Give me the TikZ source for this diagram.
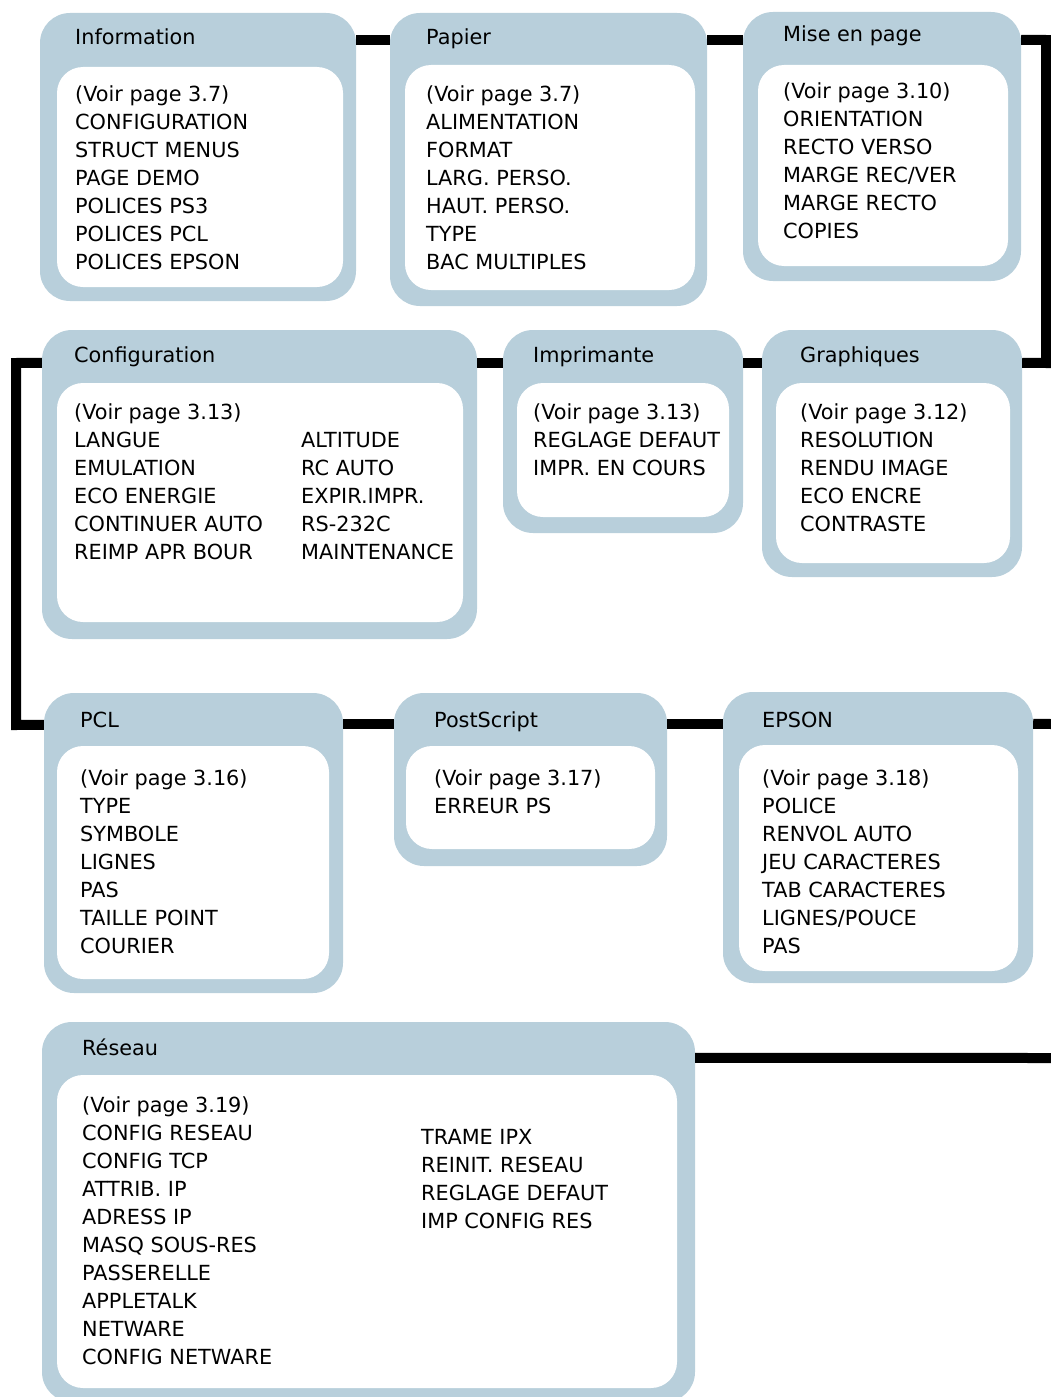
\documentclass[tikz,border=0pt]{standalone}
\usepackage{fontspec}
\setmainfont{DejaVu Sans}
\usepackage{tikz}
\definecolor{panelblue}{RGB}{184,207,219}
\newcommand\menufont{\fontsize{20.8}{28}\selectfont}
\newcommand\menulist[1]{\begin{tabular}[t]{@{}l@{}}#1\end{tabular}}

\begin{document}
\begin{tikzpicture}[x=1pt,y=-1pt,
  panel/.style={rectangle,rounded corners=30pt,fill=panelblue,draw=none,inner sep=0pt},
  card/.style={rectangle,rounded corners=26pt,fill=white,draw=none,inner sep=0pt},
  head/.style={anchor=base west,inner sep=0pt,font=\menufont,text=black},
  items/.style={anchor=base west,inner sep=0pt,font=\menufont,text=black},
  link/.style={draw=black,line width=10pt}]
\useasboundingbox (0,0) rectangle (1051,1397);
% first row
\node[panel,minimum width=316pt,minimum height=288pt] (info) at (198,157) {};
\node[card,minimum width=286pt,minimum height=220pt] (info-c) at (200,177) {};
\node[head] (info-t) at (75,44.5) {Information};
\node[items] (info-b) at (75,101) {\menulist{(Voir page 3.7)\\CONFIGURATION\\STRUCT MENUS\\PAGE DEMO\\POLICES PS3\\POLICES PCL\\POLICES EPSON}};
\node[panel,minimum width=317pt,minimum height=293pt] (papier) at (548.5,159.5) {};
\node[card,minimum width=290pt,minimum height=225pt] (papier-c) at (550,177.5) {};
\node[head] (papier-t) at (426,44.5) {Papier};
\node[items] (papier-b) at (426,101) {\menulist{(Voir page 3.7)\\ALIMENTATION\\FORMAT\\LARG. PERSO.\\HAUT. PERSO.\\TYPE\\BAC MULTIPLES}};
\node[panel,minimum width=278pt,minimum height=269pt] (mise) at (882,146.5) {};
\node[card,minimum width=250pt,minimum height=201pt] (mise-c) at (883,165.5) {};
\node[head] (mise-t) at (783,41.5) {Mise en page};
\node[items] (mise-b) at (783,98.5) {\menulist{(Voir page 3.10)\\ORIENTATION\\RECTO VERSO\\MARGE REC/VER\\MARGE RECTO\\COPIES}};
% second row
\node[panel,minimum width=435pt,minimum height=309pt] (config) at (259.5,484.5) {};
\node[card,minimum width=406pt,minimum height=239pt] (config-c) at (260,502.5) {};
\node[head] (config-t) at (74,362.5) {Configuration};
\node[items] (config-b) at (74,419) {\menulist{(Voir page 3.13)\\LANGUE\\EMULATION\\ECO ENERGIE\\CONTINUER AUTO\\REIMP APR BOUR}};
\node[items] (config-r) at (301,447) {\menulist{ALTITUDE\\RC AUTO\\EXPIR.IMPR.\\RS-232C\\MAINTENANCE}};
\node[panel,minimum width=240pt,minimum height=203pt] (imprim) at (623,431.5) {};
\node[card,minimum width=212pt,minimum height=134pt] (imprim-c) at (623,450) {};
\node[head] (imprim-t) at (533,362.5) {Imprimante};
\node[items] (imprim-b) at (533,419) {\menulist{(Voir page 3.13)\\REGLAGE DEFAUT\\IMPR. EN COURS}};
\node[panel,minimum width=260pt,minimum height=247pt] (graph) at (892,453.5) {};
\node[card,minimum width=234pt,minimum height=180pt] (graph-c) at (893,473) {};
\node[head] (graph-t) at (800,362.5) {Graphiques};
\node[items] (graph-b) at (800,419) {\menulist{(Voir page 3.12)\\RESOLUTION\\RENDU IMAGE\\ECO ENCRE\\CONTRASTE}};
% third row
\node[panel,minimum width=299pt,minimum height=300pt] (pcl) at (193.5,843) {};
\node[card,minimum width=272pt,minimum height=233pt] (pcl-c) at (193,862.5) {};
\node[head] (pcl-t) at (80,727.5) {PCL};
\node[items] (pcl-b) at (80,785.5) {\menulist{(Voir page 3.16)\\TYPE\\SYMBOLE\\LIGNES\\PAS\\TAILLE POINT\\COURIER}};
\node[panel,minimum width=273pt,minimum height=173pt] (ps) at (530.5,779.5) {};
\node[card,minimum width=249pt,minimum height=103pt] (ps-c) at (530.5,797.5) {};
\node[head] (ps-t) at (434,727.5) {PostScript};
\node[items] (ps-b) at (434,785.5) {\menulist{(Voir page 3.17)\\ERREUR PS}};
\node[panel,minimum width=310pt,minimum height=291pt] (epson) at (878,837.5) {};
\node[card,minimum width=279pt,minimum height=226pt] (epson-c) at (878.5,858) {};
\node[head] (epson-t) at (762,727.5) {EPSON};
\node[items] (epson-b) at (762,785.5) {\menulist{(Voir page 3.18)\\POLICE\\RENVOL AUTO\\JEU CARACTERES\\TAB CARACTERES\\LIGNES/POUCE\\PAS}};
% last row
\node[panel,minimum width=653pt,minimum height=380pt] (reseau) at (368.5,1212) {};
\node[card,minimum width=620pt,minimum height=313pt] (reseau-c) at (367,1231.5) {};
\node[head] (reseau-t) at (82,1055.5) {Réseau};
\node[items] (reseau-b) at (82,1112) {\menulist{(Voir page 3.19)\\CONFIG RESEAU\\CONFIG TCP\\ATTRIB. IP\\ADRESS IP\\MASQ SOUS-RES\\PASSERELLE\\APPLETALK\\NETWARE\\CONFIG NETWARE}};
\node[items] (reseau-r) at (421,1144.4) {\menulist{TRAME IPX\\REINIT. RESEAU\\REGLAGE DEFAUT\\IMP CONFIG RES}};
% connectors
\coordinate (turn-ne) at (1046,40);
\coordinate (turn-se) at (1046,363);
\coordinate (turn-nw) at (16,363);
\coordinate (turn-sw) at (16,725);
\coordinate (edge-a) at (1051,724);
\coordinate (edge-b) at (1051,1058);
\draw[link] ([yshift=-27pt]info.north east) -- ([yshift=-27pt]papier.north west);
\draw[link] ([yshift=-27pt]papier.north east) -- ([yshift=-28pt]mise.north west);
\draw[link] ([yshift=-28pt]mise.north east) -- (turn-ne) -- (turn-se) -- ([yshift=-33pt]graph.north east);
\draw[link] ([yshift=-33pt]graph.north west) -- ([yshift=-33pt]imprim.north east);
\draw[link] ([yshift=-33pt]imprim.north west) -- ([yshift=-33pt]config.north east);
\draw[link] ([yshift=-33pt]config.north west) -- (turn-nw) -- (turn-sw) -- ([yshift=-32pt]pcl.north west);
\draw[link] ([yshift=-31pt]pcl.north east) -- ([yshift=-31pt]ps.north west);
\draw[link] ([yshift=-31pt]ps.north east) -- ([yshift=-32pt]epson.north west);
\draw[link] ([yshift=-32pt]epson.north east) -- (edge-a);
\draw[link] ([yshift=-36pt]reseau.north east) -- (edge-b);
\end{tikzpicture}
\end{document}
